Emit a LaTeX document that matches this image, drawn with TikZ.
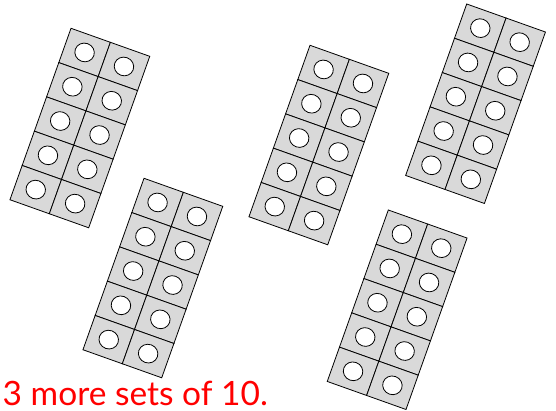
\documentclass[tikz,border=0pt]{standalone}
\usepackage{fontspec}
\newfontfamily\captionfont{Lato}
\definecolor{cubeGray}{RGB}{217,217,217}
\definecolor{capRed}{RGB}{255,0,0}

\begin{document}
\begin{tikzpicture}[
  x=1pt,
  y=1pt,
  cubecell/.style={
    draw,
    fill=cubeGray,
    line width=0.8pt
  },
  cubehole/.style={draw, fill=white, line width=0.8pt},
  captext/.style={
    text=capRed,
    inner sep=0pt,
    text depth=0pt,
    anchor=base west,
    font=\captionfont\fontsize{33.5}{40}\selectfont
  }
]
  \useasboundingbox (0,0) rectangle (556,411);

  \foreach \px/\py in {71/382.7, 144/232.7, 310/365.7, 466.7/407, 388.3/201} {
    \begin{scope}[shift={(\px,\py)}, rotate=-19.6]
      \foreach \col in {0,1} {
        \foreach \row in {0,...,4} {
          \draw[cubecell] (41.8*\col, -36.4*\row) rectangle ++(41.8,-36.4);
          \draw[cubehole] (41.8*\col+20.9, -36.4*\row-18.2) ellipse (9.8 and 9.3);
        }
      }
    \end{scope}
  }

  \node[captext] (caption) at (2.5,5) {3 more sets of 10.};
\end{tikzpicture}
\end{document}
